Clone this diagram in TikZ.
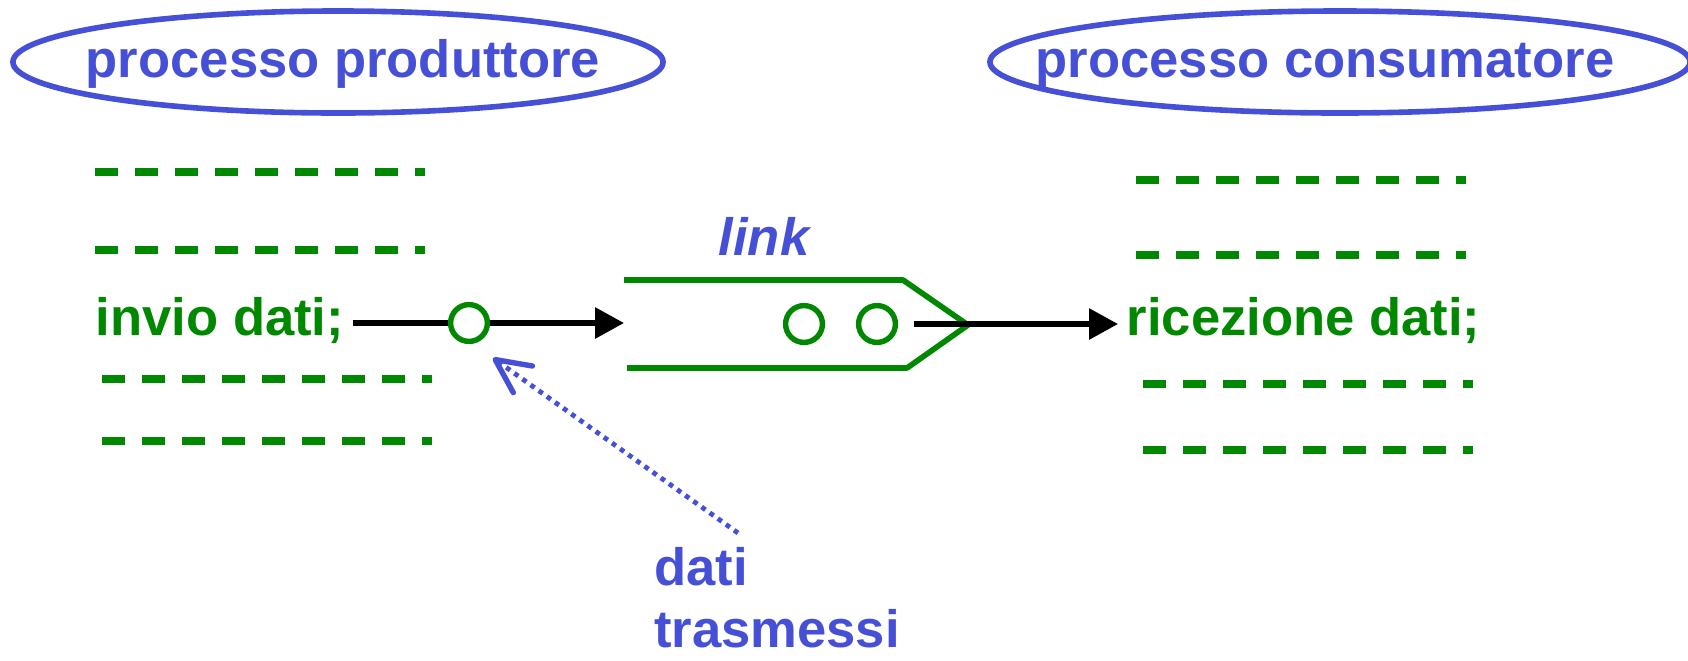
\documentclass[tikz,border=0pt]{standalone}
\usepackage{fontspec}
\setmainfont{Liberation Sans}
\usepackage{xcolor}
\usetikzlibrary{positioning, arrows.meta}
\definecolor{procblue}{RGB}{70,80,215}
\definecolor{codegreen}{RGB}{0,136,0}

\begin{document}
\begin{tikzpicture}[x=0.025cm, y=-0.025cm, every node/.style={inner sep=0pt},
    big/.style={font=\fontsize{37.4}{43.4}\selectfont\bfseries},
    title/.style={big, text=procblue, anchor=base},
    ring/.style={draw=procblue, line width=0.14cm},
    code/.style={big, text=codegreen, anchor=base west, inner xsep=6pt},
    dashrow/.style={draw=codegreen, line width=0.19cm, dash pattern=on 0.575cm off 0.425cm},
    msg/.style={circle, draw=codegreen, fill=white, line width=0.135cm, minimum size=0.92cm},
    pipe/.style={draw=codegreen, line width=0.14cm, line join=round},
    send/.style={line width=0.135cm, -{Triangle[length=0.72cm,width=0.75cm]}},
    hint/.style={draw=procblue, line width=0.12cm, dash pattern=on 0.12cm off 0.13cm,
      -{Straight Barb[length=0.85cm,width=0.82cm,line width=0.135cm,round]}},
    note/.style={big, text=procblue, anchor=base west}]
  \useasboundingbox (0,0) rectangle (1688,660);

  % processes
  \node[title] (prod) at (343,77) {processo produttore};
  \node[title] (cons) at (1325,77) {processo consumatore};
  \draw[ring] (338,62) ellipse [x radius=8.125cm, y radius=1.275cm];
  \draw[ring] (1340,62) ellipse [x radius=8.75cm, y radius=1.275cm];

  % code lines of the two processes
  \foreach \x/\y in {95/172, 95/250, 102/379, 102/441, 1136/180, 1136/255, 1143/384, 1143/450}
    \draw[dashrow] (\x,\y) -- ++(330,0);
  \node[code] (invio) at (87,335) {invio dati;};
  \node[code] (ricez) at (1118,335) {ricezione dati;};

  % the link
  \draw[pipe] (624,280) -- (903,280) -- (968,325) -- (907,368) -- (627,368);
  \coordinate (pipein) at (624,323);
  \node[big, font=\fontsize{37.4}{43.4}\selectfont\bfseries\itshape, text=procblue, anchor=base] (linklbl) at (764,255) {link};
  \node[msg] (q1) at (804,324) {};
  \node[msg] (q2) at (877,324) {};

  % message on its way
  \node[msg] (pkt) at (469,323) {};
  \draw[line width=0.135cm] (invio.east |- pkt) -- (pkt.west);
  \draw[send] (pkt.east) -- (pipein);
  \draw[send] ([xshift=0.4cm]q2.east) -- (ricez.west |- q2);

  % label for the data
  \node[note] (dati) at (654,585) {dati};
  \node[note] (trasm) at (654,647) {trasmessi};
  \coordinate (dtail) at (738,533);
  \coordinate (dtip) at (493,358);
  \draw[hint] (dtail) -- (dtip);
\end{tikzpicture}
\end{document}
